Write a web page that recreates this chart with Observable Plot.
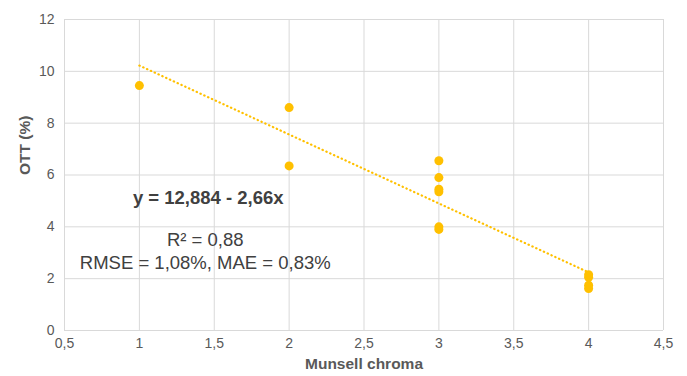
<!DOCTYPE html>
<html>
<head>
<meta charset="utf-8">
<script src="https://cdn.jsdelivr.net/npm/d3@7"></script>
<script src="https://cdn.jsdelivr.net/npm/@observablehq/plot@0.6"></script>
<style>
  html, body { margin: 0; padding: 0; background: #fff; }
  svg { font-family: "Liberation Sans", Arial, sans-serif; }
</style>
</head>
<body>
<div id="chart"></div>
<script>
const chroma = [1, 2, 2, 3, 3, 3, 3, 3, 3, 4, 4, 4, 4];
const ott    = [9.45, 8.6, 6.35, 6.55, 5.9, 5.45, 5.35, 4.0, 3.9, 2.15, 2.05, 1.75, 1.62];
const xTicks = [0.5, 1, 1.5, 2, 2.5, 3, 3.5, 4, 4.5];
const yTicks = [0, 2, 4, 6, 8, 10, 12];
const trendX = [1, 4];
const intercept = 12.884, slope = -2.66;
const equationText = "y = 12,884 - 2,66x";
const statsText = ["R² = 0,88", "RMSE = 1,08%, MAE = 0,83%"];

const points = chroma.map((c, i) => ({x: c, y: ott[i]}));
const trend = trendX.map(x => ({x, y: intercept + slope * x}));
const fmt = d => String(d).replace(".", ",");

const chart = Plot.plot({
  width: 687,
  height: 376,
  marginLeft: 64,
  marginRight: 24,
  marginTop: 19,
  marginBottom: 46,
  style: {fontFamily: "'Liberation Sans', Arial, sans-serif", fontSize: "14px", color: "#595959", background: "#fff"},
  x: {domain: [0.5, 4.5], ticks: xTicks, tickFormat: fmt, label: null},
  y: {domain: [0, 12], ticks: yTicks, tickFormat: fmt, label: null},
  marks: [
    Plot.gridX(xTicks, {stroke: "#d9d9d9", strokeOpacity: 1}),
    Plot.gridY(yTicks, {stroke: "#d9d9d9", strokeOpacity: 1}),
    Plot.axisX({ticks: xTicks, tickFormat: fmt, tickSize: 0, tickPadding: 8, label: null, fill: "#595959", fontSize: 14}),
    Plot.axisY({ticks: yTicks, tickFormat: fmt, tickSize: 0, tickPadding: 10, label: null, fill: "#595959", fontSize: 14}),
    Plot.text(["Munsell chroma"], {frameAnchor: "bottom", dy: 38, text: d => d, fontSize: 15.5, fontWeight: "bold", fill: "#595959"}),
    Plot.text(["OTT (%)"], {frameAnchor: "left", dx: -39, rotate: -90, text: d => d, fontSize: 15.5, fontWeight: "bold", fill: "#595959"}),
    Plot.line(trend, {x: "x", y: "y", stroke: "#FFC000", strokeWidth: 2.2, strokeLinecap: "round", strokeDasharray: "0.4,3.8"}),
    Plot.dot(points, {x: "x", y: "y", r: 4.5, fill: "#FFC000", stroke: "none"}),
    Plot.text([{x: 1.46, y: 5.1, t: equationText}], {x: "x", y: "y", text: "t", fontSize: 18.5, fontWeight: "bold", fill: "#404040"}),
    Plot.text([{x: 1.44, y: 3.47, t: statsText[0]}, {x: 1.44, y: 2.6, t: statsText[1]}], {x: "x", y: "y", text: "t", fontSize: 18.5, fill: "#404040"})
  ]
});
document.getElementById("chart").appendChild(chart);
</script>
</body>
</html>
